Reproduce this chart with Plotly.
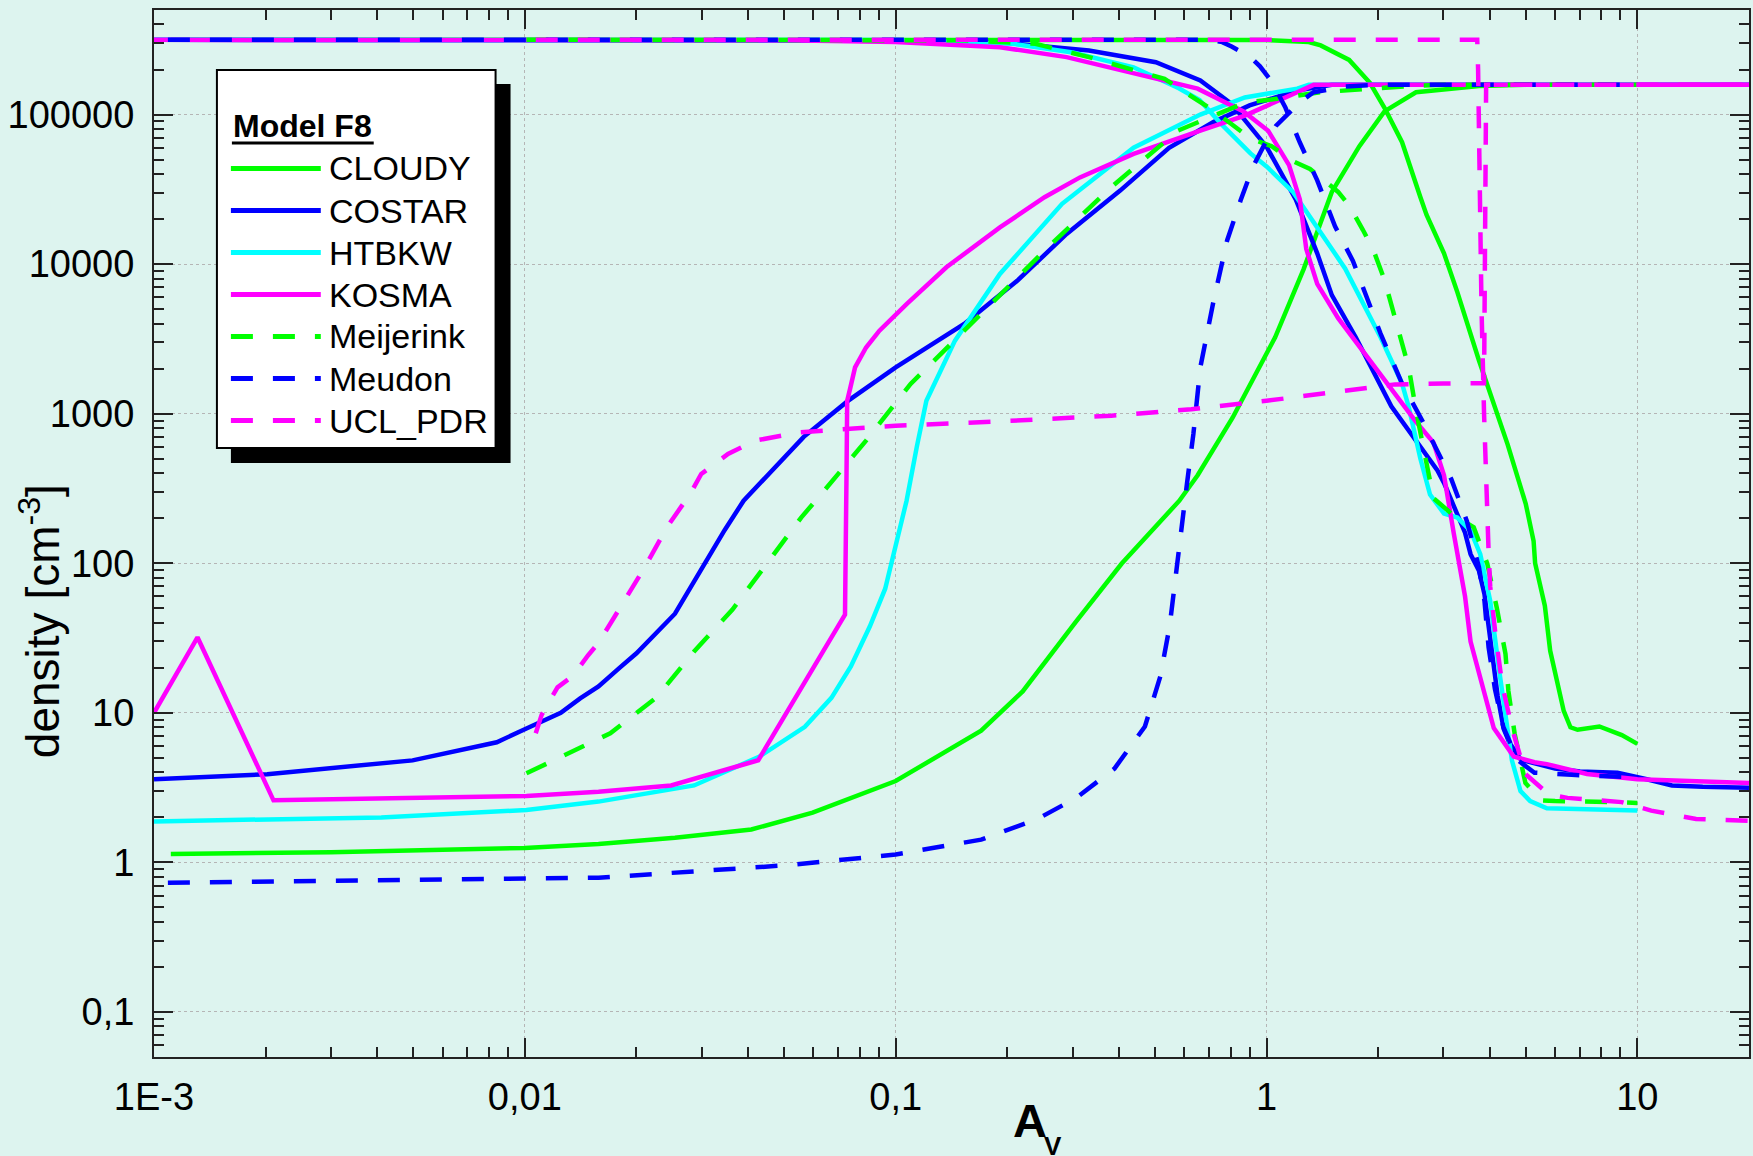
import math
import plotly.graph_objects as go

# ---------------- data (A_V, density) ----------------
CLOUDY_H_AV = [0.00111, 0.3, 1.0, 1.3, 1.40, 1.67, 1.90, 2.08, 2.32, 2.60, 2.70, 3.01, 3.27, 3.74, 4.47,
               5.0, 5.25, 5.30, 5.63, 5.82, 6.0, 6.33, 6.6, 6.9, 7.9, 9.08, 10.0]
CLOUDY_H_N = [3.16e5, 3.16e5, 3.15e5, 3.05e5, 2.9e5, 2.32e5, 1.63e5, 1.11e5, 6.53e4, 2.8e4, 2.14e4, 1.18e4,
              6.5e3, 2.27e3, 621, 250, 141, 100, 52, 26, 19, 10.3, 8.0, 7.7, 8.1, 7.1, 6.2]
CLOUDY_H2_AV = [0.00111, 0.003, 0.01, 0.0158, 0.0254, 0.0408, 0.0597, 0.1, 0.17, 0.22, 0.306, 0.407, 0.582,
                0.652, 0.81, 1.055, 1.26, 1.50, 1.78, 2.08, 2.53, 3.15, 3.74, 5.0, 10.0]
CLOUDY_H2_N = [1.14, 1.17, 1.25, 1.33, 1.46, 1.66, 2.15, 3.5, 7.6, 13.9, 40.6, 99.6, 262, 388, 940, 3240,
               9300, 30400, 61500, 1.05e5, 1.41e5, 1.5e5, 1.55e5, 1.58e5, 1.58e5]

COSTAR_H_AV = [0.001, 0.05, 0.1, 0.19, 0.332, 0.503, 0.663, 0.805, 1.0, 1.2, 1.37, 1.50, 1.74, 2.17, 2.53,
               2.89, 3.01, 3.43, 3.55, 3.74, 3.87, 3.96, 4.08, 4.2, 4.36, 4.52, 4.84, 5.01, 6.0, 7.0, 8.84,
               9.5, 10.6, 12.4, 15.0, 20.0]
COSTAR_H_N = [3.16e5, 3.15e5, 3.12e5, 3.04e5, 2.68e5, 2.24e5, 1.69e5, 1.18e5, 6.1e4, 2.7e4, 1.18e4, 6.2e3,
              3.24e3, 1.12e3, 661, 417, 345, 160, 115, 89, 62, 40, 24, 13, 7.8, 6.3, 4.9, 4.75, 4.24, 4.05,
              3.98, 3.85, 3.6, 3.27, 3.2, 3.16]
COSTAR_H2_AV = [0.001, 0.00202, 0.00498, 0.0084, 0.0101, 0.0125, 0.0141, 0.0158, 0.018, 0.02, 0.0254, 0.03,
                0.0346, 0.0389, 0.0565, 0.0745, 0.1, 0.153, 0.213, 0.289, 0.403, 0.546, 0.719, 0.9, 1.21,
                1.5, 20.0]
COSTAR_H2_N = [3.6, 3.89, 4.81, 6.36, 7.85, 10.0, 12.5, 15.0, 20.0, 25.0, 46, 93, 167, 262, 700, 1222, 2040,
               3980, 7760, 15900, 31000, 60000, 89000, 1.15e5, 1.45e5, 1.58e5, 1.58e5]

HTBKW_H_AV = [0.001, 0.1, 0.207, 0.3, 0.438, 0.58, 0.66, 0.76, 0.905, 1.0, 1.18, 1.63, 2.03, 2.32, 2.42,
              2.6, 2.76, 2.89, 3.01, 3.27, 3.55, 3.77, 4.01, 4.23, 4.41, 4.59, 4.84, 5.14, 5.7, 10.0]
HTBKW_H_N = [3.16e5, 3.15e5, 2.97e5, 2.6e5, 2.07e5, 1.5e5, 1.25e5, 8.5e4, 5.5e4, 4.5e4, 3.03e4, 9.33e3,
             3.24e3, 1.59e3, 1.1e3, 500, 288, 243, 215, 202, 165, 115, 56, 20, 9.3, 4.8, 3.0, 2.57, 2.3, 2.22]
HTBKW_H2_AV = [0.001, 0.0041, 0.0101, 0.0158, 0.0286, 0.0428, 0.0569, 0.0671, 0.0757, 0.0852, 0.0937,
               0.1007, 0.107, 0.114, 0.121, 0.1445, 0.191, 0.281, 0.438, 0.663, 0.874, 1.21, 1.3, 10.0]
HTBKW_H2_N = [1.88, 2.0, 2.24, 2.55, 3.27, 5.08, 8.06, 12.6, 20.4, 37.9, 67.6, 137, 262, 600, 1222, 3080,
              8590, 25300, 60000, 1.0e5, 1.3e5, 1.49e5, 1.58e5, 1.58e5]

KOSMA_H_AV = [0.001, 0.05, 0.1, 0.191, 0.289, 0.503, 0.652, 0.867, 1.01, 1.15, 1.23, 1.28, 1.37, 1.56, 2.03,
              2.53, 2.82, 3.01, 3.2, 3.43, 3.55, 4.1, 4.64, 5.28, 5.7, 7.31, 10.0, 20.0]
KOSMA_H_N = [3.16e5, 3.14e5, 3.05e5, 2.82e5, 2.42e5, 1.73e5, 1.49e5, 1.05e5, 7.8e4, 4.59e4, 2.7e4, 1.26e4,
             7.38e3, 4.35e3, 1.8e3, 883, 640, 388, 157, 60, 30, 7.9, 5.1, 4.67, 4.54, 3.9, 3.6, 3.39]
KOSMA_H2_AV = [0.001, 0.00131, 0.0021, 0.0101, 0.0158, 0.0248, 0.0426, 0.073, 0.0737, 0.074, 0.0755, 0.0777,
               0.0832, 0.0904, 0.107, 0.137, 0.191, 0.252, 0.314, 0.438, 0.663, 0.874, 1.21, 1.34, 20.0]
KOSMA_H2_N = [10, 32, 2.6, 2.78, 2.97, 3.27, 4.82, 45.4, 400, 1222, 1500, 2040, 2770, 3590, 5410, 9530,
              17600, 28000, 38000, 54500, 78200, 98500, 1.41e5, 1.58e5, 1.58e5]

MEIJERINK_H_AV = [0.0101, 0.15, 0.238, 0.332, 0.531, 0.72, 0.905, 1.03, 1.18, 1.31, 1.56, 1.67, 1.82, 1.94,
                  2.08, 2.22, 2.42, 2.53, 2.70, 2.82, 3.15, 3.62, 3.94, 4.18, 4.41, 4.49, 4.67, 4.99, 5.5,
                  6.0, 9.0, 10.0]
MEIJERINK_H_N = [3.16e5, 3.14e5, 2.97e5, 2.42e5, 1.73e5, 1.06e5, 6.93e4, 6.16e4, 4.87e4, 4.33e4, 3.04e4,
                 2.47e4, 1.69e4, 1.25e4, 7.84e3, 4.35e3, 2.02e3, 1.05e3, 490, 272, 215, 174, 99, 50, 24.7,
                 14, 7.2, 3.4, 2.6, 2.57, 2.53, 2.5]
MEIJERINK_H2_AV = [0.0101, 0.017, 0.0226, 0.0286, 0.0363, 0.045, 0.0556, 0.063, 0.0832, 0.1097, 0.166,
                   0.252, 0.381, 0.578, 0.874, 1.03, 1.4, 1.86, 2.5, 3.0, 10.0]
MEIJERINK_H2_N = [3.94, 7.3, 12.6, 25.7, 49, 99.5, 202, 290, 660, 1580, 4400, 12300, 32700, 78200, 1.2e5,
                  1.26e5, 1.41e5, 1.49e5, 1.56e5, 1.58e5, 1.58e5]

MEUDON_H_AV = [0.00109, 0.7, 0.76, 0.805, 0.9, 0.96, 1.03, 1.125, 1.23, 1.37, 1.53, 1.71, 2.03, 2.32, 2.64,
               3.15, 3.47, 3.74, 3.87, 3.97, 4.13, 4.35, 4.76, 5.28, 6.65, 8.4, 10.0]
MEUDON_H_N = [3.16e5, 3.16e5, 3.05e5, 2.85e5, 2.45e5, 2.1e5, 1.68e5, 1.11e5, 6.5e4, 3.63e4, 1.79e4, 1.05e4,
              3.43e3, 1.59e3, 883, 365, 191, 94, 56, 27.5, 14.4, 8.05, 4.82, 3.98, 3.85, 3.8, 3.7]
MEUDON_H2_AV = [0.00109, 0.0158, 0.0518, 0.1, 0.17, 0.241, 0.307, 0.389, 0.47, 0.517, 0.548, 0.569, 0.589,
                0.61, 0.635, 0.663, 0.72, 0.783, 0.851, 0.92, 1.0, 1.06, 1.23, 1.34, 1.63, 2.0, 10.0]
MEUDON_H2_N = [0.73, 0.79, 0.96, 1.13, 1.42, 1.95, 2.7, 4.24, 8.1, 17.5, 38, 82, 190, 339, 731, 2040, 5700,
               14400, 26600, 45000, 67000, 84000, 1.21e5, 1.41e5, 1.54e5, 1.58e5, 1.58e5]

UCL_H_AV = [0.0107, 3.70, 3.72, 3.76, 3.80, 3.86, 3.92, 3.97, 4.01, 4.14, 4.32, 4.59, 4.99, 5.78, 6.48,
            9.07, 10.9, 14.4, 20.0]
UCL_H_N = [3.16e5, 3.16e5, 2e5, 3e4, 5000, 1000, 260, 120, 70, 34, 15.5, 7.9, 3.9, 2.84, 2.7, 2.53, 2.22,
           1.95, 1.9]
UCL_H2_AV = [0.0107, 0.0111, 0.01225, 0.01346, 0.0148, 0.0158, 0.0182, 0.021, 0.0243, 0.0279, 0.0299,
             0.0353, 0.0417, 0.055, 0.1, 0.191, 0.381, 0.627, 1.0, 1.56, 2.22, 3.0, 3.80, 3.86, 3.88, 3.90,
             3.91, 20.0]
UCL_H2_N = [7.3, 9.7, 14.8, 17.6, 24.2, 29.3, 52, 93, 178, 290, 395, 538, 660, 750, 832, 888, 970, 1070,
            1220, 1410, 1570, 1590, 1590, 1600, 1e4, 1e5, 1.58e5, 1.58e5]

MODEL_NAMES = ["CLOUDY", "COSTAR", "HTBKW", "KOSMA", "Meijerink", "Meudon", "UCL_PDR"]
MODEL_COLORS = ["#00ff00", "#0000ff", "#00ffff", "#ff00ff", "#00ff00", "#0000ff", "#ff00ff"]
MODEL_DASHED = [False, False, False, False, True, True, True]

X_TICKS = [0.001, 0.01, 0.1, 1, 10]
X_LABELS = ["1E-3", "0,01", "0,1", "1", "10"]
Y_TICKS = [0.1, 1, 10, 100, 1000, 10000, 100000]
Y_LABELS = ["0,1", "1", "10", "100", "1000", "10000", "100000"]
X_RANGE = [0.001, 20]
Y_RANGE = [0.05, 5e5]

LEGEND_TITLE = "Model F8"
X_TITLE_MAIN = "A"
X_TITLE_SUB = "V"
Y_TITLE = "density [cm<sup>-3</sup>]"

# ---------------- layout geometry ----------------
W, H = 1753, 1156
ML, MR, MT, MB = 154, 2, 10, 99
PW = W - ML - MR
PH = H - MT - MB


def pxx(xp):
    return (xp - ML) / PW


def pxy(yp):
    return (H - MB - yp) / PH


BG = "#ddf4ef"
FONT = "Arial, 'Liberation Sans', sans-serif"
DASH = "22px,20px"
AXC = "#222222"
LW = 4.5

curves = {
    "CLOUDY": [(CLOUDY_H_AV, CLOUDY_H_N), (CLOUDY_H2_AV, CLOUDY_H2_N)],
    "COSTAR": [(COSTAR_H_AV, COSTAR_H_N), (COSTAR_H2_AV, COSTAR_H2_N)],
    "HTBKW": [(HTBKW_H_AV, HTBKW_H_N), (HTBKW_H2_AV, HTBKW_H2_N)],
    "KOSMA": [(KOSMA_H_AV, KOSMA_H_N), (KOSMA_H2_AV, KOSMA_H2_N)],
    "Meijerink": [(MEIJERINK_H_AV, MEIJERINK_H_N), (MEIJERINK_H2_AV, MEIJERINK_H2_N)],
    "Meudon": [(MEUDON_H_AV, MEUDON_H_N), (MEUDON_H2_AV, MEUDON_H2_N)],
    "UCL_PDR": [(UCL_H_AV, UCL_H_N), (UCL_H2_AV, UCL_H2_N)],
}

fig = go.Figure()
for name, color, dashed in zip(MODEL_NAMES, MODEL_COLORS, MODEL_DASHED):
    for xs, ys in curves[name]:
        fig.add_trace(go.Scatter(
            x=xs, y=ys, mode="lines", name=name, showlegend=False, hoverinfo="skip",
            line=dict(color=color, width=LW, dash=DASH if dashed else "solid"),
        ))


def minor_vals(lo, hi):
    out = []
    e0, e1 = math.floor(math.log10(lo)), math.ceil(math.log10(hi))
    for e in range(e0, e1 + 1):
        for m in range(2, 10):
            v = m * 10.0 ** e
            if lo <= v <= hi:
                out.append(v)
    return out


def axis(tickvals, ticktext, rng, standoff):
    return dict(
        type="log", range=[math.log10(rng[0]), math.log10(rng[1])],
        tickmode="array", tickvals=tickvals, ticktext=ticktext,
        ticks="inside", ticklen=19, tickwidth=2, tickcolor=AXC,
        showline=True, linecolor=AXC, linewidth=2, mirror="allticks",
        showgrid=True, gridcolor="#b5b5b5", griddash="dot", gridwidth=1,
        zeroline=False, ticklabelstandoff=standoff,
        tickfont=dict(family=FONT, size=38, color="black"),
        minor=dict(tickmode="array", tickvals=minor_vals(*rng), ticks="inside",
                   ticklen=10, tickwidth=2, tickcolor=AXC, showgrid=False),
    )


shapes = []
annotations = []

# legend box with drop shadow
shapes.append(dict(type="rect", xref="paper", yref="paper", x0=pxx(231), x1=pxx(511), y0=pxy(463),
                   y1=pxy(84), fillcolor="black", line=dict(width=0), layer="above"))
shapes.append(dict(type="rect", xref="paper", yref="paper", x0=pxx(217), x1=pxx(496), y0=pxy(448),
                   y1=pxy(70), fillcolor="white", line=dict(color="black", width=2), layer="above"))
# title underline
shapes.append(dict(type="line", xref="paper", yref="paper", x0=pxx(232), x1=pxx(374), y0=pxy(143),
                   y1=pxy(143), line=dict(color="black", width=3), layer="above"))
annotations.append(dict(xref="paper", yref="paper", x=pxx(231), y=pxy(126), xanchor="left",
                        yanchor="middle", showarrow=False, text="<b>" + LEGEND_TITLE + "</b>",
                        font=dict(family=FONT, size=32, color="black")))

row_y0, row_dy = 168.5, 42.0
for i, (name, color, dashed) in enumerate(zip(MODEL_NAMES, MODEL_COLORS, MODEL_DASHED)):
    yy = row_y0 + i * row_dy
    shapes.append(dict(type="line", xref="paper", yref="paper", x0=pxx(231), x1=pxx(321), y0=pxy(yy),
                       y1=pxy(yy), line=dict(color=color, width=5, dash=DASH if dashed else "solid"),
                       layer="above"))
    annotations.append(dict(xref="paper", yref="paper", x=pxx(327), y=pxy(yy), xanchor="left",
                            yanchor="middle", showarrow=False, text=name,
                            font=dict(family=FONT, size=34, color="black")))

# axis titles
annotations.append(dict(xref="paper", yref="paper", x=pxx(40), y=pxy(621), xanchor="center",
                        yanchor="middle", showarrow=False, text=Y_TITLE, textangle=-90,
                        font=dict(family=FONT, size=46, color="black")))
annotations.append(dict(xref="paper", yref="paper", x=pxx(1031), y=pxy(1120), xanchor="center",
                        yanchor="middle", showarrow=False, text="<b>" + X_TITLE_MAIN + "</b>",
                        font=dict(family=FONT, size=47, color="black")))
annotations.append(dict(xref="paper", yref="paper", x=pxx(1054), y=pxy(1146), xanchor="center",
                        yanchor="middle", showarrow=False, text="<b>" + X_TITLE_SUB + "</b>",
                        font=dict(family=FONT, size=26, color="black")))

fig.update_layout(
    width=W, height=H, autosize=False,
    margin=dict(l=ML, r=MR, t=MT, b=MB, pad=0),
    paper_bgcolor=BG, plot_bgcolor=BG,
    showlegend=False,
    xaxis=axis(X_TICKS, X_LABELS, X_RANGE, 5),
    yaxis=axis(Y_TICKS, Y_LABELS, Y_RANGE, 10),
    shapes=shapes, annotations=annotations,
    font=dict(family=FONT, color="black"),
)

fig.write_html(
    "out.html",
    config={"displayModeBar": False},
    post_script="document.body.style.margin='0px';document.body.style.overflow='hidden';",
)
